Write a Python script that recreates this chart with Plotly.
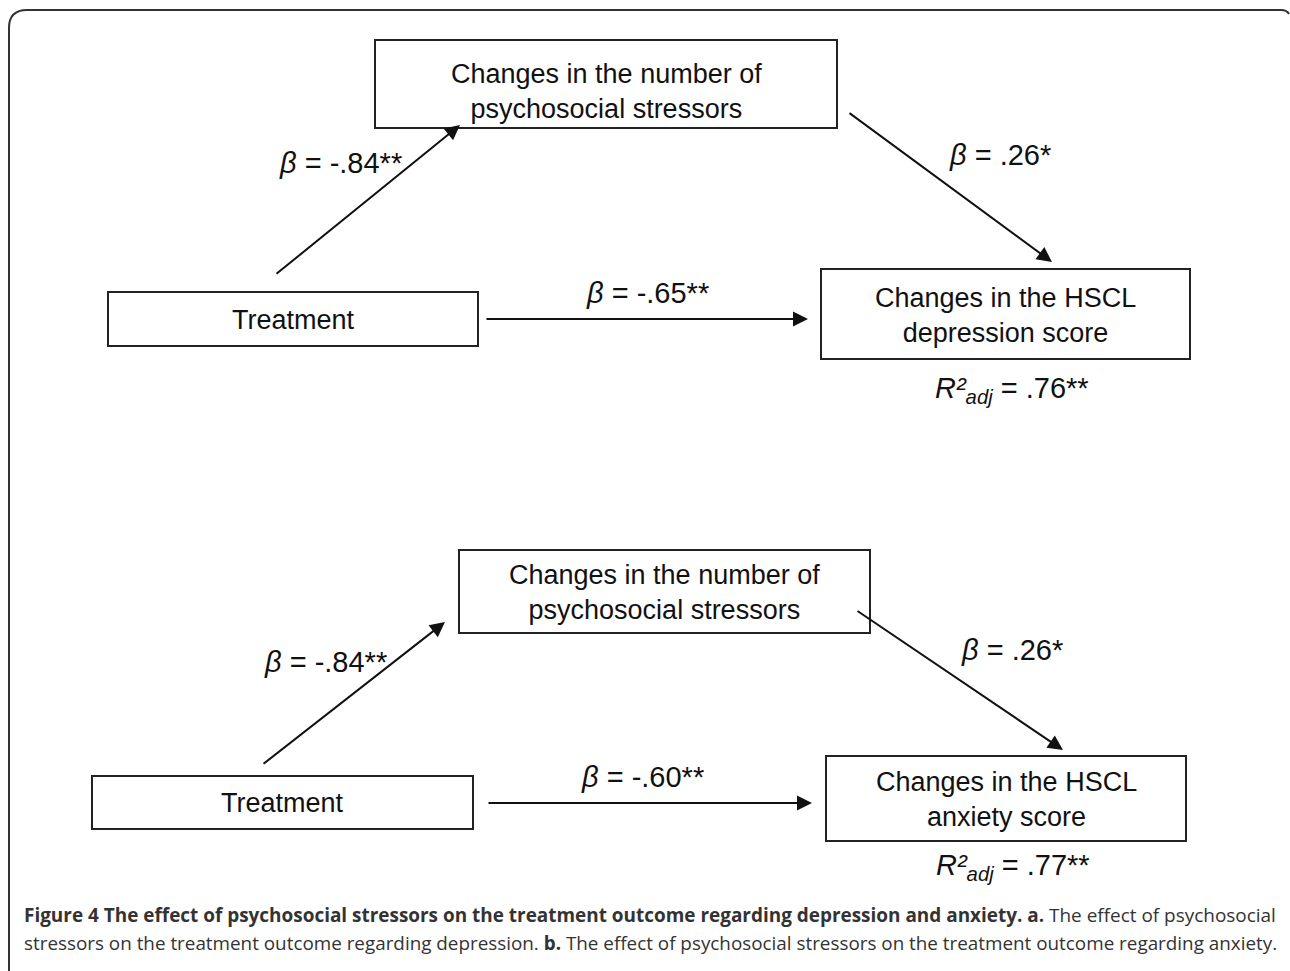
import plotly.graph_objects as go

# ---- content ----
box_texts_a = ["Changes in the number of<br>psychosocial stressors", "Treatment",
               "Changes in the HSCL<br>depression score"]
box_texts_b = ["Changes in the number of<br>psychosocial stressors", "Treatment",
               "Changes in the HSCL<br>anxiety score"]
path_labels_a = ["<i>β</i> = -.84**", "<i>β</i> = .26*", "<i>β</i> = -.65**"]
path_labels_b = ["<i>β</i> = -.84**", "<i>β</i> = .26*", "<i>β</i> = -.60**"]
r2_labels = ["<i>R²</i><sub><i>adj</i></sub> = .76**", "<i>R²</i><sub><i>adj</i></sub> = .77**"]
caption_bold = "Figure 4 The effect of psychosocial stressors on the treatment outcome regarding depression and anxiety. a."
caption_1 = " The effect of psychosocial"
caption_2 = "stressors on the treatment outcome regarding depression. <b>b.</b> The effect of psychosocial stressors on the treatment outcome regarding anxiety."

# ---- layout geometry (pixels) ----
panels = [
    dict(texts=box_texts_a, labels=path_labels_a, r2=r2_labels[0],
         boxes=[(375, 40, 837, 128), (108, 292, 478, 346), (821, 269, 1190, 359)],
         text_dy=[7, 1, 1],
         arrows=[((275, 275), (460, 125)), ((848, 112), (1052, 262)), ((485, 319), (808, 319))],
         label_pos=[(340, 163), (1000, 155), (647, 293)], r2_pos=(1012, 390)),
    dict(texts=box_texts_b, labels=path_labels_b, r2=r2_labels[1],
         boxes=[(459, 550, 870, 633), (92, 776, 473, 829), (826, 756, 1186, 841)],
         text_dy=[1, 0, 1],
         arrows=[((262, 765), (445, 622)), ((856, 610), (1063, 750)), ((487, 803), (812, 803))],
         label_pos=[(325, 662), (1012, 650), (642, 777)], r2_pos=(1013, 867)),
]

FONT = "Liberation Sans, Arial, sans-serif"
fig = go.Figure()
shapes = []
annotations = []

# outer frame with rounded top-left corner
shapes.append(dict(type="path", xref="x", yref="y",
                   path="M 9 980 L 9 28 Q 9 10 27 10 L 1281 10 Q 1287 10 1289 14",
                   line=dict(color="#333333", width=2)))

for p in panels:
    for (x0, y0, x1, y1), t, dy in zip(p["boxes"], p["texts"], p["text_dy"]):
        shapes.append(dict(type="rect", xref="x", yref="y", x0=x0, y0=y0, x1=x1, y1=y1,
                           line=dict(color="#222222", width=2), fillcolor="white"))
        annotations.append(dict(x=(x0 + x1) / 2, y=(y0 + y1) / 2 + dy, xref="x", yref="y",
                                text=t, showarrow=False,
                                font=dict(family=FONT, size=27, color="#111111")))
    for (s, e) in p["arrows"]:
        annotations.append(dict(x=e[0], y=e[1], ax=s[0], ay=s[1], xref="x", yref="y",
                                axref="x", ayref="y", text="", showarrow=True,
                                arrowhead=2, arrowsize=1.5, arrowwidth=2, arrowcolor="#111111"))
    for (lx, ly), t in zip(p["label_pos"], p["labels"]):
        annotations.append(dict(x=lx, y=ly, xref="x", yref="y", text=t, showarrow=False,
                                font=dict(family=FONT, size=29, color="#111111")))
    annotations.append(dict(x=p["r2_pos"][0], y=p["r2_pos"][1], xref="x", yref="y",
                            text=p["r2"], showarrow=False,
                            font=dict(family=FONT, size=29, color="#111111")))

annotations.append(dict(x=22, y=915, xref="x", yref="y", xanchor="left", yanchor="middle",
                        text="<b>" + caption_bold + "</b>" + caption_1, showarrow=False,
                        font=dict(family="Open Sans, sans-serif", size=18.95, color="#333333")))
annotations.append(dict(x=22, y=943, xref="x", yref="y", xanchor="left", yanchor="middle",
                        text=caption_2, showarrow=False,
                        font=dict(family="Open Sans, sans-serif", size=18.85, color="#333333")))

fig.update_layout(
    width=1290, height=971, autosize=False,
    margin=dict(l=0, r=0, t=0, b=0),
    paper_bgcolor="white", plot_bgcolor="white",
    xaxis=dict(range=[0, 1290], visible=False, fixedrange=True),
    yaxis=dict(range=[971, 0], visible=False, fixedrange=True),
    shapes=shapes, annotations=annotations, showlegend=False,
)

fig.write_html("out.html", config={"displayModeBar": False},
               post_script="document.body.style.margin='0';document.body.style.overflow='hidden';")
